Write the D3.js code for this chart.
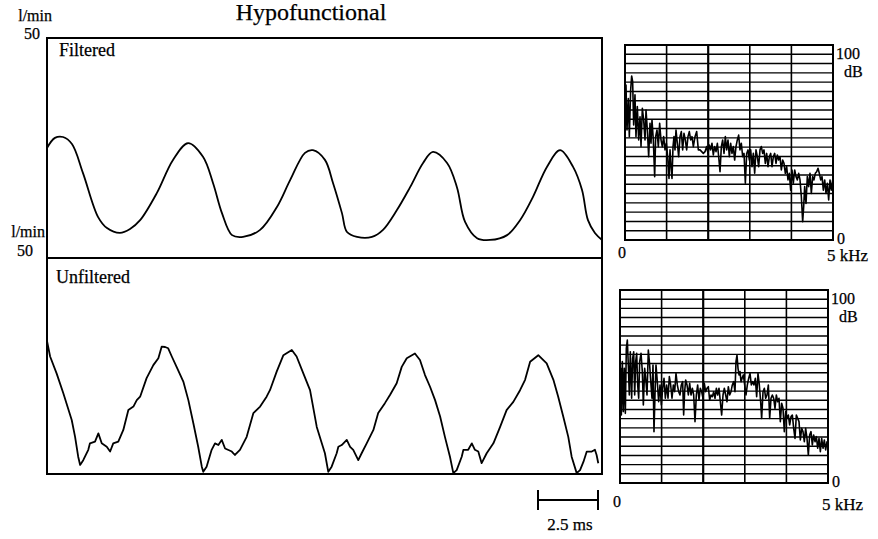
<!DOCTYPE html>
<html>
<head>
<meta charset="utf-8">
<script src="https://cdn.jsdelivr.net/npm/d3@7"></script>
<style>
  html, body { margin: 0; padding: 0; background: #fff; }
  svg { display: block; }
  text { font-family: "Liberation Serif", "Times New Roman", serif; fill: #000; stroke: #000; stroke-width: 0.25px; }
</style>
</head>
<body>
<svg id="chart" width="878" height="539"></svg>
<script>
// ---------------- DATA ----------------
const title = "Hypofunctional";
const flowUnit = "l/min";
const flowTop = 50;              // l/min at top of each waveform panel
const timeSpan = 23.125;         // ms across the waveform panels
const scaleBarMs = 2.5;
const panelLabels = ["Filtered", "Unfiltered"];
const specTopLabel = ["100", "dB"];
const specZeroLabel = "0";
const specFreqLabel = "5 kHz";
const specFreqMax = 5;   // kHz
const specDbMax = 100;   // dB
const specRows = 21;
const specCols = 5;

// Filtered airflow: [time ms, flow l/min]
const filtered = [
 [0,25.0],[0.33,27.3],[0.67,27.5],[1.04,25.9],[1.5,19.3],[2.13,9.3],[2.5,6.8],[3.04,5.7],[3.46,6.6],[3.88,8.6],
 [4.58,14.8],[5.25,22.3],[5.88,26.1],[6.5,23.0],[6.92,17.0],[7.29,10.2],[7.71,5.2],[8.17,4.8],[8.88,6.4],[9.58,11.6],
 [10.13,17.7],[10.75,23.9],[11.08,24.5],[11.58,22.3],[11.92,17.0],[12.29,10.2],[12.5,5.9],[12.92,4.8],[13.54,4.8],[14.0,6.4],
 [14.58,10.9],[15.13,16.1],[15.67,21.6],[16.08,24.1],[16.67,21.6],[17.08,16.1],[17.42,8.2],[17.92,4.5],[18.46,4.1],[19.17,5.2],
 [19.71,8.6],[20.25,13.9],[20.83,20.7],[21.38,24.5],[21.92,20.7],[22.29,15.5],[22.54,8.6],[22.83,5.7],[23.13,4.1]
];

// Unfiltered airflow: [time ms, flow l/min]
const unfiltered = [
 [0,30.8],[0.13,27.2],[0.40,23.3],[0.68,18.7],[1.03,12.5],[1.17,8.6],[1.30,4.0],[1.38,2.1],[1.51,3.2],[1.72,5.6],
 [1.79,7.1],[2.0,7.5],[2.14,9.4],[2.28,7.1],[2.49,6.3],[2.63,5.2],[2.76,7.1],[2.97,7.5],[3.18,10.2],[3.39,14.8],
 [3.60,15.6],[3.74,17.1],[3.88,17.9],[4.15,22.2],[4.43,25.2],[4.64,26.8],[4.78,29.5],[4.92,29.4],[5.05,29.1],[5.20,27.2],
 [5.40,24.8],[5.68,21.4],[5.89,17.1],[6.10,11.7],[6.30,6.3],[6.45,1.7],[6.51,0.5],[6.65,1.7],[6.86,5.6],[7.0,7.1],
 [7.14,6.7],[7.28,7.9],[7.42,5.9],[7.70,5.2],[7.83,4.4],[8.04,5.6],[8.32,8.6],[8.60,14.1],[8.88,15.6],[9.15,17.9],
 [9.29,19.4],[9.57,23.7],[9.85,27.5],[10.20,28.7],[10.40,27.2],[10.68,23.3],[10.96,19.4],[11.24,10.9],[11.45,7.1],[11.58,4.8],
 [11.72,0.5],[11.86,1.7],[12.07,4.8],[12.14,6.3],[12.28,6.7],[12.49,7.9],[12.63,6.3],[12.76,5.6],[12.97,3.2],[13.11,4.8],
 [13.32,7.1],[13.60,10.2],[13.80,14.1],[14.08,16.4],[14.29,18.3],[14.57,21.0],[14.78,24.8],[14.99,26.8],[15.33,27.9],[15.54,26.4],
 [15.75,22.9],[15.96,20.2],[16.17,17.1],[16.38,13.3],[16.58,8.6],[16.79,4.0],[16.93,0.2],[17.07,0.9],[17.28,4.0],[17.35,5.6],
 [17.55,5.6],[17.70,7.1],[17.83,5.6],[17.97,5.2],[18.11,2.5],[18.32,4.8],[18.60,7.1],[18.88,10.9],[19.15,14.8],[19.43,16.7],
 [19.71,19.4],[19.92,21.8],[20.13,26.0],[20.47,27.5],[20.82,25.6],[21.10,21.8],[21.30,17.9],[21.51,13.3],[21.72,8.6],[21.86,4.0],
 [22.07,0.2],[22.21,0.9],[22.35,2.8],[22.49,5.2],[22.70,5.2],[22.83,5.6],[22.90,4.4],[22.97,2.5]
];

// Spectrum of filtered signal: [frequency kHz, level dB]
const spectrumFiltered = [
 [0,51.3],[0.024,79.5],[0.048,56.4],[0.080,72.6],[0.104,53.0],[0.136,76.9],[0.160,84.1],[0.184,81.2],[0.208,59.0],[0.240,74.4],
 [0.264,53.0],[0.296,68.4],[0.329,51.3],[0.361,63.2],[0.385,47.9],[0.417,67.5],[0.449,61.5],[0.481,51.3],[0.505,66.7],[0.537,56.4],
 [0.569,42.7],[0.601,59.8],[0.625,49.6],[0.649,61.5],[0.681,51.3],[0.713,32.5],[0.737,53.0],[0.769,56.4],[0.801,47.9],[0.833,59.8],
 [0.865,51.3],[0.897,47.9],[0.929,53.0],[0.962,46.2],[0.994,49.6],[1.026,42.7],[1.058,31.6],[1.082,46.2],[1.106,37.6],[1.130,31.6],
 [1.154,47.9],[1.178,53.0],[1.202,46.2],[1.226,56.4],[1.258,49.6],[1.290,42.7],[1.322,53.0],[1.354,55.6],[1.386,46.2],[1.418,54.7],
 [1.450,51.3],[1.482,46.2],[1.514,53.0],[1.546,55.6],[1.579,51.3],[1.611,53.0],[1.643,47.9],[1.683,53.0],[1.723,55.6],[1.763,46.2],
 [1.803,46.2],[1.843,45.3],[1.883,44.4],[1.923,45.3],[1.963,47.9],[1.995,44.4],[2.027,48.7],[2.059,46.2],[2.091,49.6],[2.123,43.6],
 [2.155,47.9],[2.188,45.3],[2.220,49.6],[2.252,42.7],[2.284,35.0],[2.316,47.9],[2.348,51.3],[2.380,44.4],[2.412,53.0],[2.444,46.2],
 [2.476,51.3],[2.508,42.7],[2.540,49.6],[2.572,44.4],[2.604,47.9],[2.636,41.0],[2.668,47.9],[2.700,51.3],[2.732,53.8],[2.764,46.2],
 [2.796,49.6],[2.829,42.7],[2.861,44.4],[2.893,29.1],[2.925,44.4],[2.957,46.2],[2.989,41.0],[3.021,46.2],[3.053,37.6],[3.085,44.4],
 [3.117,34.2],[3.149,46.2],[3.181,42.7],[3.213,37.6],[3.245,46.2],[3.277,47.9],[3.309,44.4],[3.341,46.2],[3.373,39.3],[3.405,44.4],
 [3.438,37.6],[3.470,42.7],[3.502,44.4],[3.534,37.6],[3.566,42.7],[3.598,44.4],[3.630,39.3],[3.662,43.6],[3.694,41.0],[3.726,42.7],
 [3.758,35.9],[3.790,41.0],[3.822,39.3],[3.854,34.2],[3.886,37.6],[3.918,30.8],[3.950,34.2],[3.982,25.6],[4.014,35.9],[4.046,29.1],
 [4.079,35.9],[4.111,32.5],[4.143,30.8],[4.175,34.2],[4.207,30.8],[4.239,22.2],[4.271,9.4],[4.295,17.1],[4.319,27.4],[4.351,18.8],
 [4.383,32.5],[4.415,27.4],[4.447,34.2],[4.479,23.9],[4.511,32.5],[4.543,30.8],[4.575,34.2],[4.607,35.0],[4.639,36.8],[4.671,34.2],
 [4.704,30.8],[4.736,32.5],[4.768,25.6],[4.800,30.8],[4.832,23.9],[4.864,29.1],[4.896,20.5],[4.928,30.8],[4.960,25.6],[4.992,30.8]
];

// Spectrum of unfiltered signal: [frequency kHz, level dB]
const spectrumUnfiltered = [
 [0,33.5],[0.016,59.4],[0.032,35.2],[0.056,62.9],[0.080,37.0],[0.104,59.4],[0.128,36.1],[0.152,69.8],[0.176,74.1],[0.200,61.1],
 [0.224,45.6],[0.248,68.0],[0.280,43.9],[0.304,64.6],[0.329,68.0],[0.353,45.6],[0.377,62.9],[0.401,67.2],[0.425,50.8],[0.449,43.9],
 [0.473,62.9],[0.505,67.2],[0.537,57.7],[0.561,40.4],[0.593,59.4],[0.625,52.5],[0.649,45.6],[0.681,68.9],[0.713,61.1],[0.745,50.8],
 [0.769,43.9],[0.793,61.1],[0.817,26.6],[0.841,45.6],[0.865,61.1],[0.897,52.5],[0.929,42.1],[0.962,50.8],[0.994,40.4],[1.026,49.1],
 [1.058,54.2],[1.090,43.9],[1.122,50.8],[1.154,43.9],[1.186,55.1],[1.218,50.8],[1.250,43.9],[1.282,50.8],[1.314,47.3],[1.346,56.8],
 [1.378,50.8],[1.410,47.3],[1.442,45.6],[1.474,50.8],[1.506,52.5],[1.530,35.2],[1.554,47.3],[1.579,53.4],[1.611,50.8],[1.643,45.6],
 [1.675,51.6],[1.707,45.6],[1.739,49.1],[1.771,45.6],[1.803,31.8],[1.835,45.6],[1.867,50.8],[1.899,43.0],[1.931,49.1],[1.963,47.3],
 [1.995,43.9],[2.027,51.6],[2.059,47.3],[2.091,49.1],[2.123,49.9],[2.155,43.0],[2.188,45.6],[2.220,44.7],[2.252,47.3],[2.284,43.9],
 [2.316,49.1],[2.348,45.6],[2.380,49.1],[2.412,42.1],[2.444,35.2],[2.476,45.6],[2.508,49.1],[2.540,45.6],[2.572,42.1],[2.604,49.9],
 [2.636,45.6],[2.668,47.3],[2.700,50.8],[2.732,52.5],[2.764,47.3],[2.788,62.9],[2.812,66.3],[2.837,59.4],[2.861,56.0],[2.885,57.7],
 [2.909,52.5],[2.933,54.2],[2.965,56.0],[2.997,50.8],[3.029,45.6],[3.061,50.8],[3.093,54.2],[3.125,56.8],[3.157,50.8],[3.189,52.5],
 [3.221,50.8],[3.253,54.2],[3.285,44.7],[3.317,56.8],[3.349,50.8],[3.381,42.1],[3.405,33.5],[3.438,47.3],[3.470,49.1],[3.502,43.9],
 [3.534,45.6],[3.566,50.8],[3.598,33.5],[3.630,43.9],[3.662,45.6],[3.694,43.9],[3.726,38.7],[3.758,45.6],[3.790,42.1],[3.822,43.9],
 [3.854,31.8],[3.886,41.3],[3.918,38.7],[3.950,26.6],[3.982,37.0],[4.014,33.5],[4.046,35.2],[4.079,30.1],[4.111,34.4],[4.143,35.2],
 [4.175,28.3],[4.207,23.1],[4.239,35.2],[4.271,33.5],[4.303,31.8],[4.335,22.3],[4.367,28.3],[4.399,26.6],[4.431,21.4],[4.463,28.3],
 [4.495,23.1],[4.527,14.5],[4.559,24.9],[4.591,26.6],[4.623,19.7],[4.655,24.9],[4.688,21.4],[4.720,24.0],[4.752,18.0],[4.784,23.1],
 [4.816,16.2],[4.848,23.1],[4.880,18.0],[4.912,22.3],[4.944,17.1],[4.976,21.4],[4.995,19.7]
];

// ---------------- LAYOUT ----------------
const svg = d3.select("#chart");

const wave = { left: 47, right: 602, top: 38, mid: 258, bottom: 474 };
const x = d3.scaleLinear().domain([0, timeSpan]).range([wave.left, wave.right]);
const yTop = d3.scaleLinear().domain([0, flowTop]).range([wave.mid, wave.top]);
const yBot = d3.scaleLinear().domain([0, flowTop]).range([wave.bottom, wave.mid]);

// title
svg.append("text").attr("x", 311).attr("y", 20).attr("text-anchor", "middle")
  .style("font-size", "24px").text(title);

// unit labels
function unitLabel(xr, yUnit, xNum, yNum) {
  svg.append("text").attr("x", xr).attr("y", yUnit).attr("text-anchor", "end")
    .style("font-size", "16px").text(flowUnit);
  svg.append("text").attr("x", xNum).attr("y", yNum).attr("text-anchor", "end")
    .style("font-size", "16px").text(flowTop);
}
unitLabel(52, 21, 40, 39);
unitLabel(45, 237, 33, 256);

// waveform frame
const frame = svg.append("g").attr("fill", "none").attr("stroke", "#000");
frame.append("rect").attr("x", wave.left).attr("y", wave.top)
  .attr("width", wave.right - wave.left).attr("height", wave.bottom - wave.top)
  .attr("stroke-width", 2);
frame.append("line").attr("x1", wave.left).attr("x2", wave.right)
  .attr("y1", wave.mid).attr("y2", wave.mid).attr("stroke-width", 2);

svg.append("text").attr("x", 59).attr("y", 56).style("font-size", "18px").text(panelLabels[0]);
svg.append("text").attr("x", 56).attr("y", 283).style("font-size", "18px").text(panelLabels[1]);

// waveforms
const lineTop = d3.line().x(d => x(d[0])).y(d => yTop(d[1])).curve(d3.curveCatmullRom.alpha(0.5));
const lineBot = d3.line().x(d => x(d[0])).y(d => yBot(d[1]));
svg.append("path").datum(filtered).attr("d", lineTop)
  .attr("fill", "none").attr("stroke", "#000").attr("stroke-width", 1.8).attr("stroke-linejoin", "round");
svg.append("path").datum(unfiltered).attr("d", lineBot)
  .attr("fill", "none").attr("stroke", "#000").attr("stroke-width", 1.8).attr("stroke-linejoin", "round");

// scale bar
const barX0 = x(timeSpan) - x(scaleBarMs) + x(0) - 4;
const barX1 = barX0 + (x(scaleBarMs) - x(0));
const bar = svg.append("g").attr("stroke", "#000").attr("stroke-width", 2);
bar.append("line").attr("x1", barX0).attr("x2", barX1).attr("y1", 500).attr("y2", 500);
bar.append("line").attr("x1", barX0).attr("x2", barX0).attr("y1", 490).attr("y2", 510);
bar.append("line").attr("x1", barX1).attr("x2", barX1).attr("y1", 490).attr("y2", 510);
svg.append("text").attr("x", (barX0 + barX1) / 2 + 2).attr("y", 530).attr("text-anchor", "middle")
  .style("font-size", "17px").text(scaleBarMs + " ms");

// spectra
function spectrum(data, box, lbl) {
  const sx = d3.scaleLinear().domain([0, specFreqMax]).range([box.x0, box.x1]);
  const sy = d3.scaleLinear().domain([0, specDbMax]).range([box.y1, box.y0]);
  const g = svg.append("g");
  const grid = g.append("g").attr("stroke", "#000");
  d3.range(1, specRows).forEach(i => {
    const v = i * specDbMax / specRows;
    grid.append("line").attr("x1", sx(0)).attr("x2", sx(specFreqMax))
      .attr("y1", sy(v)).attr("y2", sy(v)).attr("stroke-width", 1.4);
  });
  d3.range(1, specCols).forEach(i => {
    const f = i * specFreqMax / specCols;
    grid.append("line").attr("x1", sx(f)).attr("x2", sx(f))
      .attr("y1", sy(0)).attr("y2", sy(specDbMax)).attr("stroke-width", i === 2 ? 2.2 : 1.6);
  });
  g.append("rect").attr("x", sx(0)).attr("y", sy(specDbMax))
    .attr("width", sx(specFreqMax) - sx(0)).attr("height", sy(0) - sy(specDbMax))
    .attr("fill", "none").attr("stroke", "#000").attr("stroke-width", 2);
  const ln = d3.line().x(d => sx(d[0])).y(d => sy(d[1]));
  g.append("path").datum(data).attr("d", ln).attr("fill", "none")
    .attr("stroke", "#000").attr("stroke-width", 1.6).attr("stroke-linejoin", "round");
  // labels
  g.append("text").attr("x", sx(specFreqMax) + 3).attr("y", sy(specDbMax) + lbl.topDy)
    .style("font-size", "16px").text(specTopLabel[0]);
  g.append("text").attr("x", sx(specFreqMax) + 11).attr("y", sy(specDbMax) + lbl.topDy + 18)
    .style("font-size", "16px").text(specTopLabel[1]);
  g.append("text").attr("x", sx(specFreqMax) + 4).attr("y", sy(0) + 4)
    .style("font-size", "16px").text(specZeroLabel);
  g.append("text").attr("x", sx(specFreqMax) - 6).attr("y", sy(0) + lbl.freqDy)
    .style("font-size", "17px").text(specFreqLabel);
  g.append("text").attr("x", sx(0) - 7).attr("y", sy(0) + lbl.zeroDy)
    .style("font-size", "16px").text(specZeroLabel);
}
spectrum(spectrumFiltered, { x0: 625, x1: 833, y0: 45, y1: 240 }, { freqDy: 21, zeroDy: 18, topDy: 14 });
spectrum(spectrumUnfiltered, { x0: 620, x1: 828, y0: 290, y1: 483 }, { freqDy: 27, zeroDy: 24, topDy: 14 });
</script>
</body>
</html>
